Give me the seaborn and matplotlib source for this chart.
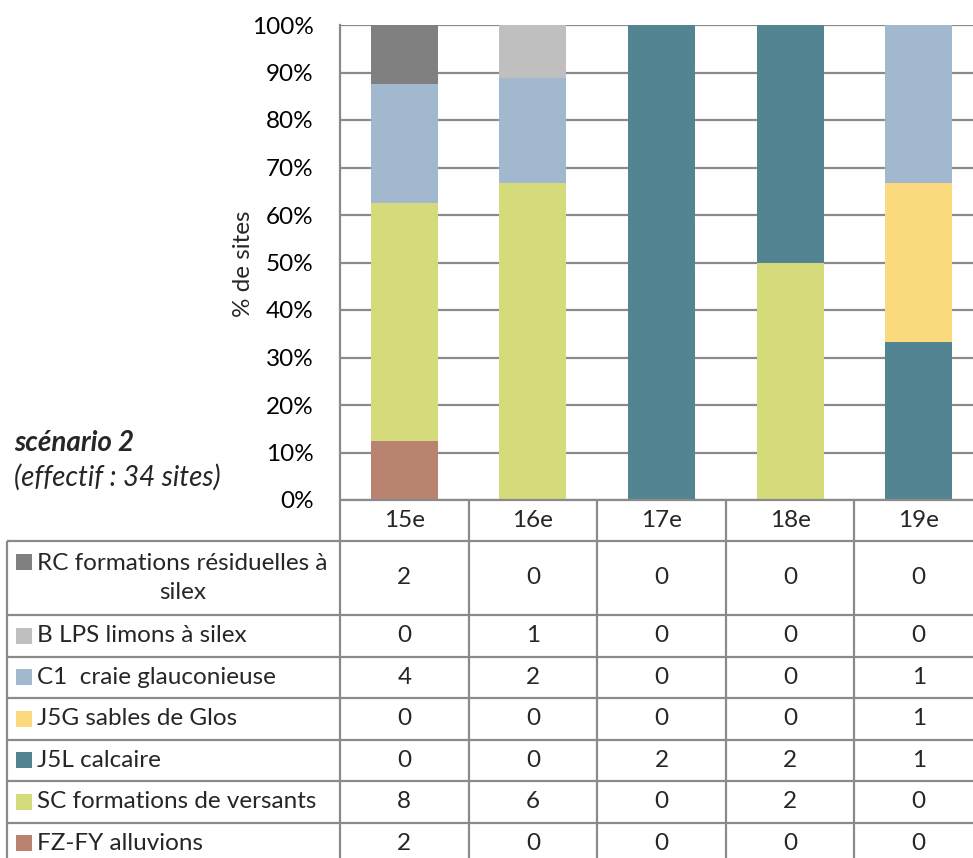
import matplotlib
matplotlib.use("Agg")
import matplotlib.pyplot as plt
import matplotlib.ticker as mticker
from matplotlib.patches import Rectangle
import numpy as np
import pandas as pd
import seaborn as sns

sns.set_theme(style="white")
plt.rcParams["font.family"] = ["Lato", "DejaVu Sans"]

# -------------------------------
# data (stack order: bottom -> top)
# -------------------------------
centuries = ["15e", "16e", "17e", "18e", "19e"]
series = [
    "FZ-FY alluvions",
    "SC formations de versants",
    "J5L calcaire",
    "J5G sables de Glos",
    "C1  craie glauconieuse",
    "B LPS limons à silex",
    "RC formations résiduelles à\nsilex",
]
fz_fy = [2, 0, 0, 0, 0]
sc = [8, 6, 0, 2, 0]
j5l = [0, 0, 2, 2, 1]
j5g = [0, 0, 0, 0, 1]
c1 = [4, 2, 0, 0, 1]
b_lps = [0, 1, 0, 0, 0]
rc = [2, 0, 0, 0, 0]
colors = ["#B8846F", "#D5DB7B", "#528591", "#FADA7C", "#A2B8CE", "#BFBFBF", "#808080"]

counts = pd.DataFrame([fz_fy, sc, j5l, j5g, c1, b_lps, rc], index=series, columns=centuries)
pct = counts / counts.sum(axis=0) * 100
cum = pct.cumsum(axis=0)

W, H = 973, 858
fig = plt.figure(figsize=(W / 100, H / 100), dpi=100)
fs = 17.5

# layout in pixels
plot_left, plot_top, plot_bottom = 340, 25, 500
col_w = 128.6
plot_w = col_w * len(centuries)
grey = "#8A8A8A"

ax = fig.add_axes([plot_left / W, 1 - plot_bottom / H, plot_w / W, (plot_bottom - plot_top) / H])

# stacked 100% bars: draw cumulative totals from the top layer down
for i in reversed(range(len(series))):
    sns.barplot(x=centuries, y=cum.iloc[i].values, color=colors[i], saturation=1,
                width=0.52, linewidth=0, ax=ax, zorder=2)

ax.set_xlim(-0.5, len(centuries) - 0.5)
ax.set_ylim(0, 100)
ax.set_yticks(np.arange(0, 101, 10))
ax.yaxis.set_major_formatter(mticker.FuncFormatter(lambda v, _: f"{v:.0f}%"))
ax.tick_params(axis="y", length=0, pad=19, labelsize=fs, labelcolor="black")
ax.set_xticks([])
ax.set_xlabel("")
ax.set_ylabel("")
ax.set_axisbelow(True)
ax.yaxis.grid(True, color=grey, linewidth=1.6)
for side in ["top", "right", "bottom"]:
    ax.spines[side].set_visible(False)
ax.spines["left"].set_color(grey)
ax.spines["left"].set_linewidth(1.6)

fig.text(243 / W, 1 - 264 / H, "% de sites", rotation=90, ha="center", va="center", fontsize=fs)

# -------------------------------
# data table (drawn in pixel coordinates)
# -------------------------------
tax = fig.add_axes([0, 0, 1, 1])
tax.set_xlim(0, W)
tax.set_ylim(H, 0)
tax.axis("off")
tax.patch.set_visible(False)

tax.text(14, 443, "scénario 2", fontsize=20, fontweight="bold", style="italic", va="center")
tax.text(14, 477, "(effectif : 34 sites)", fontsize=20, style="italic", va="center")

col_edges = [plot_left + col_w * k for k in range(len(centuries) + 1)]
header_bottom = 541
row_h = [74] + [41.5] * (len(series) - 1)
row_edges = [header_bottom]
for h in row_h:
    row_edges.append(row_edges[-1] + h)
label_left = 7
lw = 1.6

# header row
tax.hlines(plot_bottom, plot_left, col_edges[-1], color=grey, lw=lw)
for k, name in enumerate(centuries):
    tax.text((col_edges[k] + col_edges[k + 1]) / 2, (plot_bottom + header_bottom) / 2, name,
             ha="center", va="center", fontsize=fs)

# grid lines
for y in row_edges:
    tax.hlines(y, label_left, col_edges[-1], color=grey, lw=lw)
tax.vlines(label_left, row_edges[0], row_edges[-1], color=grey, lw=lw)
for x in col_edges:
    tax.vlines(x, plot_bottom, row_edges[-1], color=grey, lw=lw)

# rows: top -> bottom is reverse stack order
for r, i in enumerate(reversed(range(len(series)))):
    yc = (row_edges[r] + row_edges[r + 1]) / 2
    key_y = yc - 16 if "\n" in series[i] else yc
    tax.add_patch(Rectangle((16, key_y - 8), 16, 16, color=colors[i], lw=0))
    tax.text(37, yc, series[i], ha="left", va="center", multialignment="center",
             linespacing=1.5, fontsize=fs)
    for k in range(len(centuries)):
        tax.text((col_edges[k] + col_edges[k + 1]) / 2, yc, str(counts.iloc[i, k]),
                 ha="center", va="center", fontsize=fs)

fig.savefig("out.png", dpi=100)
